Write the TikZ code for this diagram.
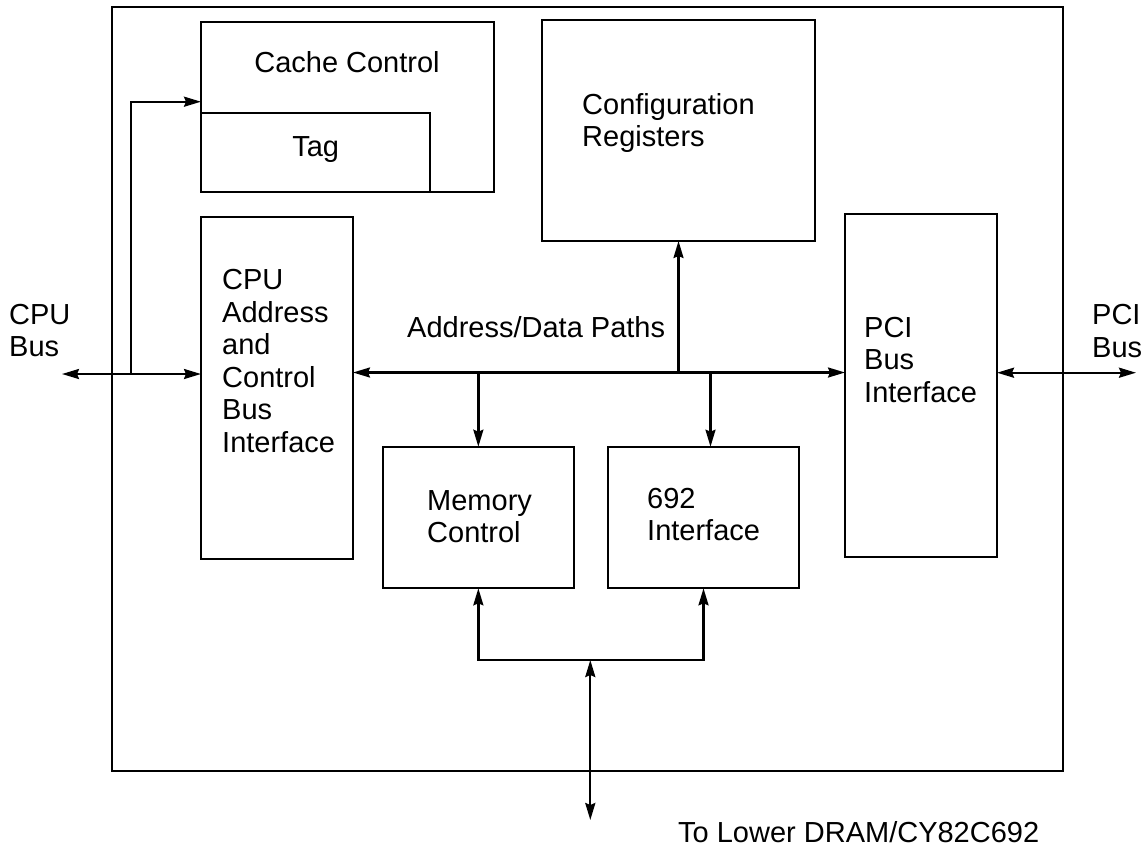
\documentclass[tikz,border=0pt]{standalone}
\usepackage{fontspec}
\setmainfont{Liberation Sans}
\usetikzlibrary{arrows.meta,calc}
\begin{document}
\begin{tikzpicture}[x=1pt,y=-1pt,
  box/.style={draw,line width=2pt,inner sep=0pt,outer sep=0pt,anchor=north west},
  frame/.style={draw,line width=1.7pt,inner sep=0pt,outer sep=0pt,anchor=north west},
  lbl/.style={font=\fontsize{29}{32.5}\selectfont,align=left,anchor=west,inner sep=0pt},
  ctr/.style={font=\fontsize{29}{32.5}\selectfont,anchor=center,inner sep=0pt},
  conn/.style={line width=2.3pt,-{Stealth[length=17pt,width=10pt,inset=2pt]}},
  bconn/.style={line width=2.3pt,{Stealth[length=17pt,width=10pt,inset=2pt]}-{Stealth[length=17pt,width=10pt,inset=2pt]}},
  wire/.style={line width=2.3pt}]
\useasboundingbox (0,0) rectangle (1142,847);

% outer chip frame
\node[frame,minimum width=951pt,minimum height=764pt] (chip) at (112,7) {};

% blocks
\node[box,minimum width=293pt,minimum height=170.6pt] (cache) at (201,21.7) {};
\node[box,minimum width=229.3pt,minimum height=79.6pt] (tag) at (201,112.7) {};
\node[box,minimum width=273pt,minimum height=221pt] (config) at (542,20) {};
\node[box,minimum width=152pt,minimum height=342.5pt] (cpu) at (201,216.5) {};
\node[box,minimum width=152pt,minimum height=342.7pt] (pci) at (845,214) {};
\node[box,minimum width=191.3pt,minimum height=141.6pt] (mem) at (382.7,446.7) {};
\node[box,minimum width=191pt,minimum height=141.6pt] (if692) at (608,446.7) {};

% texts
\node[ctr] (tcache) at (347,62.5) {Cache Control};
\node[ctr] (ttag) at (315.7,149.5) {Tag};
\node[lbl] (tconfig) at (582,123) {Configuration\\Registers};
\node[lbl] (tcpu) at (222,361) {CPU\\Address\\and\\Control\\Bus\\Interface};
\node[lbl] (tpci) at (864,360) {PCI\\Bus\\Interface};
\node[lbl] (tmem) at (427,516.5) {Memory\\Control};
\node[lbl] (t692) at (647,514.5) {692\\Interface};
\node[lbl] (tpath) at (407,327.5) {Address/Data Paths};
\node[lbl] (tcpubus) at (9,330.6) {CPU\\Bus};
\node[lbl] (tpcibus) at (1092,331) {PCI\\Bus};
\node[lbl] (tdram) at (678,831.7) {To Lower DRAM/CY82C692};

% coordinates for free ends and junctions
\coordinate (cpuext) at (62,374);
\coordinate (br) at (130.7,374);
\coordinate (pciext) at (1136,372.7);
\coordinate (bus) at (0,372.5);
\coordinate (j) at (590.3,660);
\coordinate (dram) at (590.3,820);

% CPU bus
\draw[bconn] (cpuext) -- (cpuext -| cpu.west);
\draw[conn] (br) |- (cache.west |- 0,101.7);

% internal address/data bus
\draw[bconn] (cpu.east |- bus) -- (pci.west |- bus);
\draw[conn] (config.south |- bus) -- (config.south);
\draw[conn] (mem.north |- bus) -- (mem.north);
\draw[conn] ([xshift=7pt]if692.north |- bus) -- ([xshift=7pt]if692.north);

% PCI bus
\draw[bconn] (pci.east |- pciext) -- (pciext);

% DRAM side
\draw[conn] (j) -| (mem.south);
\draw[conn] (j) -| (if692.south);
\draw[bconn] (j) -- (dram);
\end{tikzpicture}
\end{document}
